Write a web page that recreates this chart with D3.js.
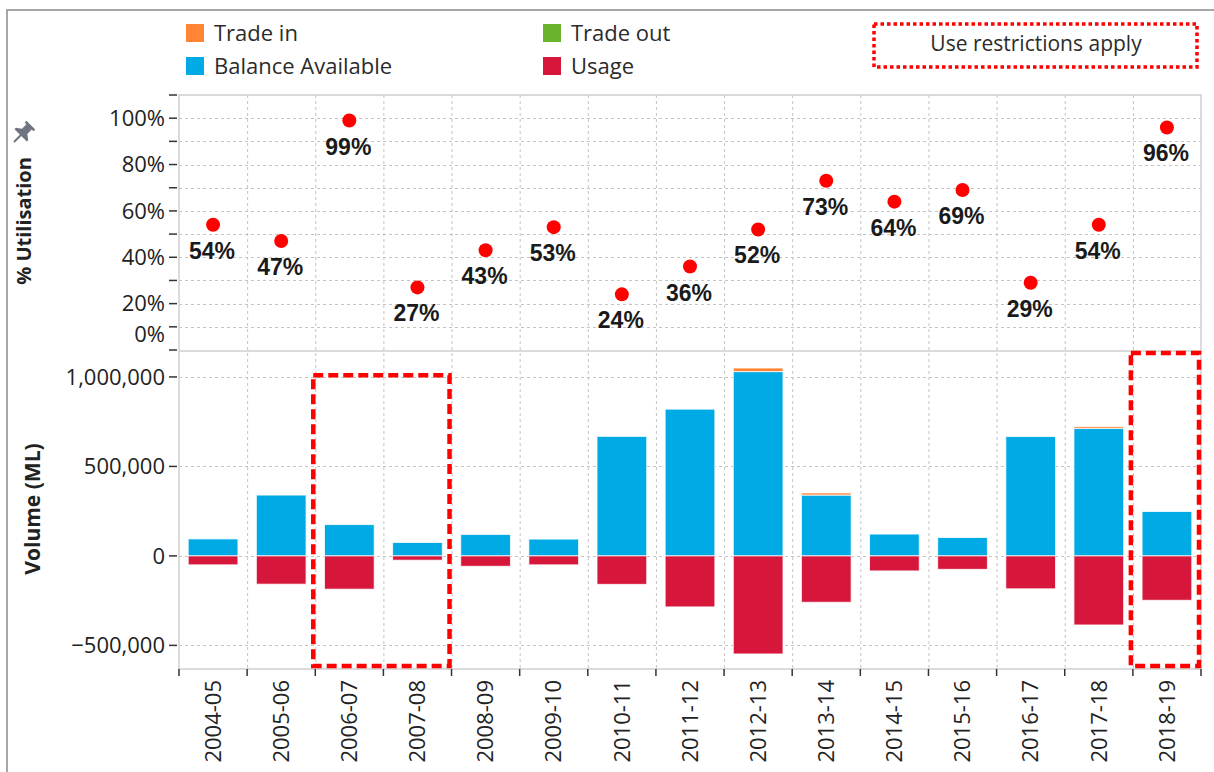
<!DOCTYPE html>
<html>
<head>
<meta charset="utf-8">
<script src="https://cdn.jsdelivr.net/npm/d3@7"></script>
<style>
  body { margin: 0; background: #fff; }
  text { font-family: "Open Sans", "Noto Sans", sans-serif; }
  text.pct { font-family: "Liberation Sans", Arial, sans-serif; font-weight: bold; }
</style>
</head>
<body>
<div id="chart"></div>
<script>
// water years
let years = ['2004-05', '2005-06', '2006-07', '2007-08', '2008-09', '2009-10', '2010-11', '2011-12',
             '2012-13', '2013-14', '2014-15', '2015-16', '2016-17', '2017-18', '2018-19'];

// % utilisation (top panel)
let utilisation = [54, 47, 99, 27, 43, 53, 24, 36, 52, 73, 64, 69, 29, 54, 96];

// volumes in ML (bottom panel)
let balance  = [95000, 340000, 175000, 75000, 120000, 94000, 668000, 820000, 1030000, 340000, 122000, 103000, 667000, 713000, 248000];
let tradeIn  = [0, 0, 0, 0, 0, 0, 0, 0, 20000, 12000, 0, 0, 0, 10000, 0];
let tradeOut = [0, 0, 0, 0, 0, 0, 0, 0, 0, 0, 0, 0, 0, 0, 0];
let usage    = [-50000, -158000, -186000, -24000, -58000, -50000, -159000, -285000, -548000, -259000, -84000, -75000, -184000, -386000, -248000];

// y ticks
let pctTicks = [0, 10, 20, 30, 40, 50, 60, 70, 80, 90, 100, 110];
let pctLabels = [0, 20, 40, 60, 80, 100];
let volTicks = [-500000, 0, 500000, 1000000];

// years where use restrictions apply
let restrictFrom = ['2006-07', '2018-19'];
let restrictTo   = ['2007-08', '2018-19'];
let restrictTop  = [1010000, 1145000];

let legendNames  = ['Trade in', 'Balance Available', 'Trade out', 'Usage'];
let legendColors = ['#ff8433', '#00aae4', '#6ab42d', '#d7163c'];

let w = 1214, h = 772;
let left = 179, right = 1201;
let topY = 95, midY = 351, botY = 669;

let svg = d3.select('#chart').append('svg')
    .attr('width', w)
    .attr('height', h);

// outer frame (left + top)
svg.append('path')
    .attr('d', 'M7,' + h + 'V10H' + w)
    .attr('fill', 'none')
    .attr('stroke', '#8a8a8a')
    .attr('stroke-width', 1.5);

let x = d3.scaleBand().domain(years).range([left, right]);
let xBar = d3.scaleBand().domain(years).range([left, right]).paddingInner(0.27).paddingOuter(0.135);

let yPct = d3.scaleLinear().domain([0, 110]).range([midY - 1, topY]);
let yVol = d3.scaleLinear().domain([-632000, 1145000]).range([botY, midY]);

let grid = svg.append('g')
    .attr('stroke', '#c4c4c4')
    .attr('stroke-dasharray', '3,3')
    .attr('stroke-width', 1);

// vertical grid at band edges
grid.selectAll('.vg')
  .data(years.slice(1))
  .enter().append('line')
    .attr('x1', (d) => x(d) + 0.5)
    .attr('x2', (d) => x(d) + 0.5)
    .attr('y1', topY)
    .attr('y2', botY);

grid.selectAll('.hp')
  .data(pctTicks.filter((d) => d > 0 && d < 110))
  .enter().append('line')
    .attr('x1', left).attr('x2', right)
    .attr('y1', (d) => Math.round(yPct(d)) + 0.5)
    .attr('y2', (d) => Math.round(yPct(d)) + 0.5);

grid.selectAll('.hv')
  .data(volTicks)
  .enter().append('line')
    .attr('x1', left).attr('x2', right)
    .attr('y1', (d) => Math.round(yVol(d)) + 0.5)
    .attr('y2', (d) => Math.round(yVol(d)) + 0.5);

// frame lines of the plot
let frame = svg.append('g').attr('stroke', '#cfcfcf').attr('stroke-width', 1.5).attr('fill', 'none');
frame.append('rect').attr('x', left).attr('y', topY).attr('width', right - left).attr('height', botY - topY);
frame.append('line').attr('x1', left).attr('x2', right).attr('y1', midY).attr('y2', midY);

// stacked bars
let rows = years.map((d, i) => ({
  year: d, balance: balance[i], tradeIn: tradeIn[i], usage: usage[i], tradeOut: tradeOut[i]
}));
let keys = ['balance', 'tradeIn', 'usage', 'tradeOut'];
let keyColor = { balance: legendColors[1], tradeIn: legendColors[0], usage: legendColors[3], tradeOut: legendColors[2] };

let series = d3.stack().keys(keys).offset(d3.stackOffsetDiverging)(rows);

svg.append('g').selectAll('g')
  .data(series)
  .enter().append('g')
    .attr('fill', (s) => keyColor[s.key])
  .selectAll('rect')
  .data((s) => s)
  .enter().append('rect')
    .attr('x', (d) => xBar(d.data.year))
    .attr('width', xBar.bandwidth())
    .attr('y', (d) => yVol(Math.max(d[0], d[1])))
    .attr('height', (d) => Math.abs(yVol(d[0]) - yVol(d[1])))
    .attr('stroke', '#fff')
    .attr('stroke-opacity', 0.8)
    .attr('stroke-width', 1);

// y axis ticks - top panel
let axis = svg.append('g').attr('stroke', '#333').attr('stroke-width', 1.5);
axis.selectAll('.tp')
  .data(pctTicks)
  .enter().append('line')
    .attr('x1', left - 10).attr('x2', left - 2)
    .attr('y1', (d) => yPct(d)).attr('y2', (d) => yPct(d));

axis.selectAll('.tv')
  .data(volTicks)
  .enter().append('line')
    .attr('x1', left - 10).attr('x2', left - 2)
    .attr('y1', (d) => yVol(d)).attr('y2', (d) => yVol(d));

// x axis ticks
axis.selectAll('.tx')
  .data(years.concat(['end']))
  .enter().append('line')
    .attr('x1', (d) => d === 'end' ? right : x(d))
    .attr('x2', (d) => d === 'end' ? right : x(d))
    .attr('y1', botY).attr('y2', botY + 7);

svg.append('g').selectAll('text')
  .data(pctLabels)
  .enter().append('text')
    .attr('x', left - 14)
    .attr('y', (d) => Math.min(yPct(d), midY - 17))
    .attr('dy', '0.35em')
    .attr('text-anchor', 'end')
    .attr('font-size', 22)
    .attr('fill', '#222')
    .text((d) => d + '%');

svg.append('g').selectAll('text')
  .data(volTicks)
  .enter().append('text')
    .attr('x', left - 14)
    .attr('y', (d) => yVol(d))
    .attr('dy', '0.35em')
    .attr('text-anchor', 'end')
    .attr('font-size', 22)
    .attr('fill', '#222')
    .text(d3.format(','));

svg.append('g').selectAll('text')
  .data(years)
  .enter().append('text')
    .attr('transform', (d) => 'translate(' + (x(d) + x.bandwidth() / 2) + ',' + (botY + 11) + ') rotate(-90)')
    .attr('dy', '0.35em')
    .attr('text-anchor', 'end')
    .attr('font-size', 22)
    .attr('fill', '#222')
    .text((d) => d);

// utilisation points
svg.append('g').selectAll('circle')
  .data(utilisation)
  .enter().append('circle')
    .attr('cx', (d, i) => x(years[i]) + x.bandwidth() / 2)
    .attr('cy', (d) => yPct(d))
    .attr('r', 7)
    .attr('fill', '#ff0000');

svg.append('g').selectAll('text')
  .data(utilisation)
  .enter().append('text')
    .attr('class', 'pct')
    .attr('x', (d, i) => x(years[i]) + x.bandwidth() / 2 - 1)
    .attr('y', (d) => yPct(d) + 34)
    .attr('text-anchor', 'middle')
    .attr('font-size', 23)
    .attr('fill', '#1a1a1a')
    .text((d) => d + '%');

// restriction boxes
svg.append('g').selectAll('rect')
  .data(restrictFrom)
  .enter().append('rect')
    .attr('x', (d) => x(d) - 2)
    .attr('y', (d, i) => Math.max(yVol(restrictTop[i]), midY + 2))
    .attr('width', (d, i) => x(restrictTo[i]) + x.bandwidth() - x(d))
    .attr('height', (d, i) => botY - 3 - Math.max(yVol(restrictTop[i]), midY + 2))
    .attr('fill', 'none')
    .attr('stroke', '#ff0000')
    .attr('stroke-width', 4.5)
    .attr('stroke-dasharray', '10,5');

// axis titles
svg.append('text')
    .attr('transform', 'translate(24,221) rotate(-90)')
    .attr('dy', '0.35em')
    .attr('text-anchor', 'middle')
    .attr('font-weight', 'bold')
    .attr('font-size', 20)
    .attr('fill', '#222')
    .text('% Utilisation');

svg.append('text')
    .attr('transform', 'translate(33,509) rotate(-90)')
    .attr('dy', '0.35em')
    .attr('text-anchor', 'middle')
    .attr('font-weight', 'bold')
    .attr('font-size', 21)
    .attr('fill', '#222')
    .text('Volume (ML)');

// little pin icon above the utilisation title
svg.append('path')
    .attr('transform', 'translate(22,134) rotate(45) scale(1.25)')
    .attr('d', 'M-5,-10H5V-8H3V-3L7,0V1.5H-7V0L-3,-3V-8H-5Z M-0.8,1.5H0.8V9H-0.8Z')
    .attr('fill', '#6e7580');

// legend
let legend = svg.append('g');
let legX = [186, 186, 543, 543];
let legY = [33, 66, 33, 66];

legend.selectAll('rect')
  .data(legendNames)
  .enter().append('rect')
    .attr('x', (d, i) => legX[i])
    .attr('y', (d, i) => legY[i] - 9)
    .attr('width', 18)
    .attr('height', 18)
    .attr('fill', (d, i) => legendColors[i]);

legend.selectAll('text')
  .data(legendNames)
  .enter().append('text')
    .attr('x', (d, i) => legX[i] + 28)
    .attr('y', (d, i) => legY[i])
    .attr('dy', '0.35em')
    .attr('font-size', 22)
    .attr('fill', '#2b2b2b')
    .text((d) => d);

svg.append('rect')
    .attr('x', 874).attr('y', 24)
    .attr('width', 323).attr('height', 43)
    .attr('fill', 'none')
    .attr('stroke', '#ff0000')
    .attr('stroke-width', 3.5)
    .attr('stroke-dasharray', '3.5,3');

svg.append('text')
    .attr('x', 1036).attr('y', 44)
    .attr('dy', '0.35em')
    .attr('text-anchor', 'middle')
    .attr('font-size', 21)
    .attr('fill', '#2b2b2b')
    .text('Use restrictions apply');
</script>
</body>
</html>
